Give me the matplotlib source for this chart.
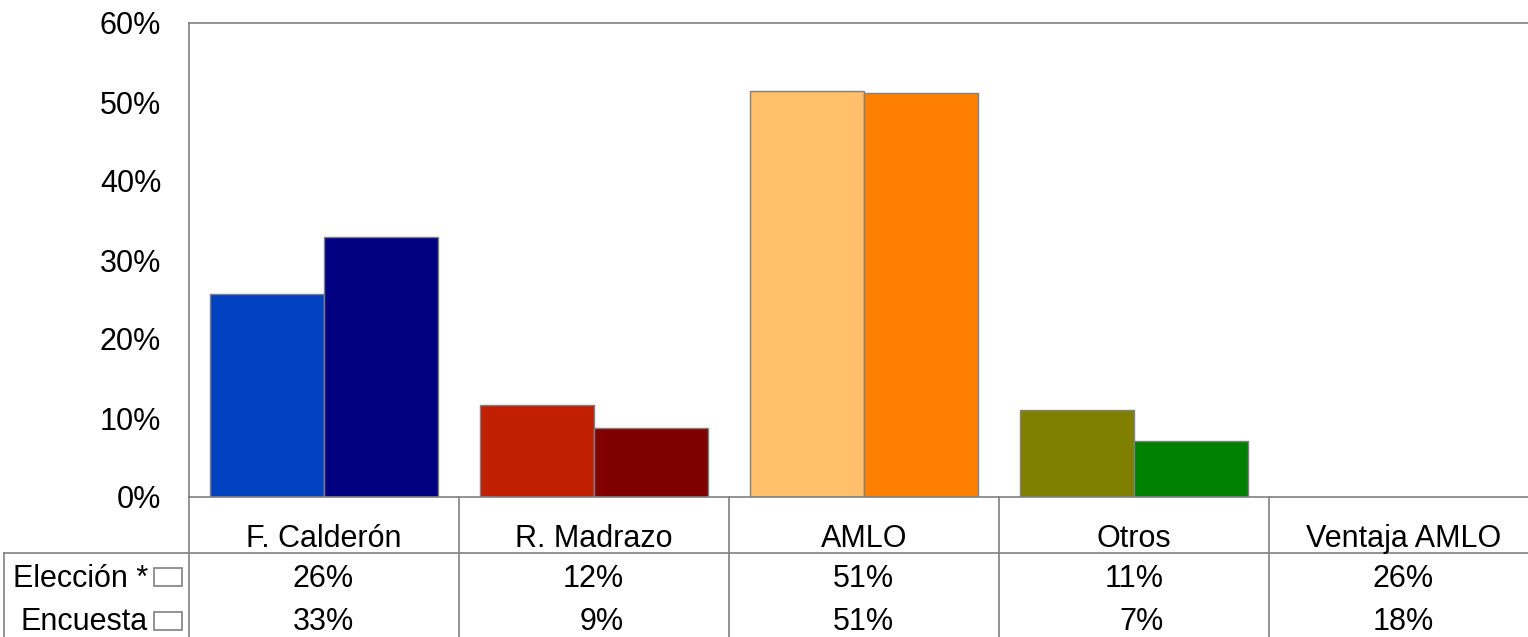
import numpy as np
import matplotlib.pyplot as plt
from matplotlib.patches import Rectangle

plt.rcParams['font.family'] = ['Liberation Sans', 'DejaVu Sans']

categories = ["F. Calderón", "R. Madrazo", "AMLO", "Otros", "Ventaja AMLO"]
# bar heights (Ventaja AMLO has no bars)
eleccion = [25.7, 11.6, 51.4, 11.0]
encuesta = [32.9, 8.7, 51.1, 7.1]
eleccion_lbl = ["26%", "12%", "51%", "11%", "26%"]
encuesta_lbl = ["33%", "9%", "51%", "7%", "18%"]
row_names = ["Elección *", "Encuesta"]

col_elec = ["#0041bf", "#c02000", "#ffbf6b", "#808000"]
col_enc = ["#000080", "#800000", "#ff8000", "#008000"]
edge = "#808080"
fs = 22

W, H = 1528, 637
fig = plt.figure(figsize=(W/100, H/100), dpi=100)

# main axes: 5 categories of 270 px each, last one runs past the right edge
ax = fig.add_axes([189/W, 140/H, 1350/W, 474/H])
x = np.arange(len(eleccion)) + 0.5
bw = 0.422
ax.bar(x - bw/2, eleccion, bw, color=col_elec, edgecolor=edge, linewidth=1)
ax.bar(x + bw/2, encuesta, bw, color=col_enc, edgecolor=edge, linewidth=1)
ax.set_xlim(0, 5)
ax.set_ylim(0, 60)
ax.set_yticks(range(0, 61, 10))
ax.set_yticklabels([f"{v}%" for v in range(0, 61, 10)])
ax.tick_params(axis='y', length=0, pad=20, labelsize=fs)
ax.set_xticks([])
ax.spines['right'].set_visible(False)
for s in ['left', 'top', 'bottom']:
    ax.spines[s].set_color(edge)
    ax.spines[s].set_linewidth(1.2)

# data table underneath, y in pixels from the bottom of the figure
tb = fig.add_axes([189/W, 0, 1350/W, 140/H])
tb.set_xlim(0, 5)
tb.set_ylim(0, 140)
tb.axis('off')
left = (4 - 189) / 270
for i in range(5):
    tb.plot([i, i], [0, 140], color=edge, lw=1.2, clip_on=False)
tb.plot([left, 5], [84, 84], color=edge, lw=1.2, clip_on=False)
tb.plot([left, left], [0, 84], color=edge, lw=1.2, clip_on=False)

for i, c in enumerate(categories):
    tb.text(i + 0.5, 90, c, ha='center', va='baseline', fontsize=fs, clip_on=False)
    tb.text(i + 0.61, 50, eleccion_lbl[i], ha='right', va='baseline', fontsize=fs, clip_on=False)
    tb.text(i + 0.61, 7, encuesta_lbl[i], ha='right', va='baseline', fontsize=fs, clip_on=False)

for name, yb, yk in zip(row_names, [50, 7], [51, 7]):
    tb.text((148 - 189) / 270, yb, name, ha='right', va='baseline', fontsize=fs, clip_on=False)
    tb.add_patch(Rectangle(((154 - 189) / 270, yk), 28 / 270, 18, facecolor='white',
                           edgecolor=edge, lw=1.2, clip_on=False))

fig.savefig("out.png", dpi=100)
